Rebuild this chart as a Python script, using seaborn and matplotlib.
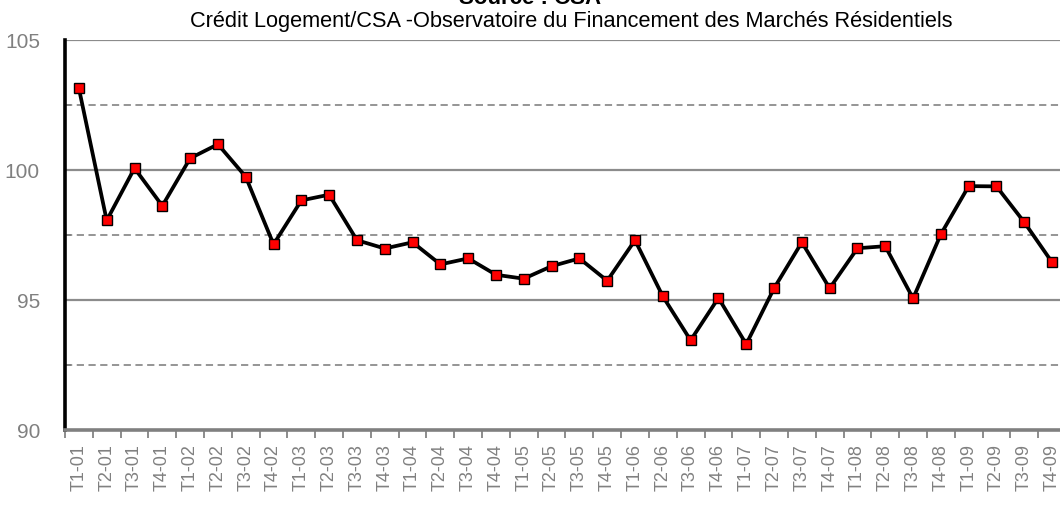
import numpy as np
import pandas as pd
import matplotlib
matplotlib.use("Agg")
import matplotlib.pyplot as plt
from matplotlib.ticker import FixedLocator
import seaborn as sns

# quarters T1-01 .. T4-09
quarters = [f"T{q}-{y:02d}" for y in range(1, 10) for q in range(1, 5)]
values = [103.14, 98.06, 100.07, 98.62, 100.45, 100.99, 99.74, 97.14,
          98.83, 99.05, 97.30, 96.98, 97.22, 96.37, 96.60, 95.97,
          95.82, 96.30, 96.60, 95.74, 97.30, 95.14, 93.45, 95.08,
          93.30, 95.45, 97.22, 95.45, 96.99, 97.07, 95.06, 97.53,
          99.38, 99.37, 97.99, 96.45]
major_y = [90, 95, 100, 105]
minor_y = [92.5, 97.5, 102.5]

title = "Source : CSA"
subtitle = "Crédit Logement/CSA -Observatoire du Financement des Marchés Résidentiels"

sns.set_style("white")
plt.rcParams["font.family"] = ["Liberation Sans", "DejaVu Sans"]

df = pd.DataFrame({"trimestre": quarters, "indice": values})

fig = plt.figure(figsize=(10.6, 5.09), dpi=100)
ax = fig.add_axes([65 / 1060, 1 - 430 / 509, 1001 / 1060, 390 / 509])

sns.lineplot(data=df, x="trimestre", y="indice", sort=False, ax=ax,
             color="black", linewidth=2.7, marker="s", markersize=7,
             markerfacecolor="#ff0000", markeredgecolor="black",
             markeredgewidth=1.0, zorder=3)

ax.set_xlim(-0.5, len(quarters) - 0.5)
ax.set_ylim(90, 105)

# gridlines: solid on majors, dashed on the half steps
for v in major_y[1:]:
    ax.axhline(v, color="#8c8c8c", lw=1.6, zorder=1)
for v in minor_y:
    ax.axhline(v, color="#8c8c8c", lw=1.3, ls=(0, (4, 2.5)), zorder=1)

ax.set_yticks(major_y)
ax.set_yticklabels([str(v) for v in major_y], color="#808080", fontsize=15)
ax.yaxis.set_minor_locator(FixedLocator(minor_y))
ax.tick_params(axis="y", which="major", length=6, width=1.5, color="black",
               direction="out", pad=12)
ax.tick_params(axis="y", which="minor", length=4, width=1.2, color="black",
               direction="in", left=True)

ax.set_xticks(range(len(quarters)))
ax.set_xticklabels(quarters, rotation=90, color="#808080", fontsize=13)
ax.xaxis.set_minor_locator(FixedLocator(np.arange(-0.5, len(quarters), 1.0)))
ax.tick_params(axis="x", which="major", length=0, pad=10)
ax.tick_params(axis="x", which="minor", length=6, width=1.4, color="#8c8c8c",
               direction="out", bottom=True)

for s in ["top", "right"]:
    ax.spines[s].set_visible(False)
ax.spines["left"].set_color("black")
ax.spines["left"].set_linewidth(2.6)
ax.spines["bottom"].set_color("#808080")
ax.spines["bottom"].set_linewidth(2.6)
ax.set_xlabel("")
ax.set_ylabel("")

# title sits mostly above the top edge, as in the source image
fig.text(530 / 1060, 1 - 4 / 509, title, ha="center", va="baseline",
         fontsize=16, fontweight="bold", color="black")
fig.text(571 / 1060, 1 - 21 / 509, subtitle, ha="center", va="center",
         fontsize=15.7, color="black")

fig.savefig("out.png", dpi=100)
